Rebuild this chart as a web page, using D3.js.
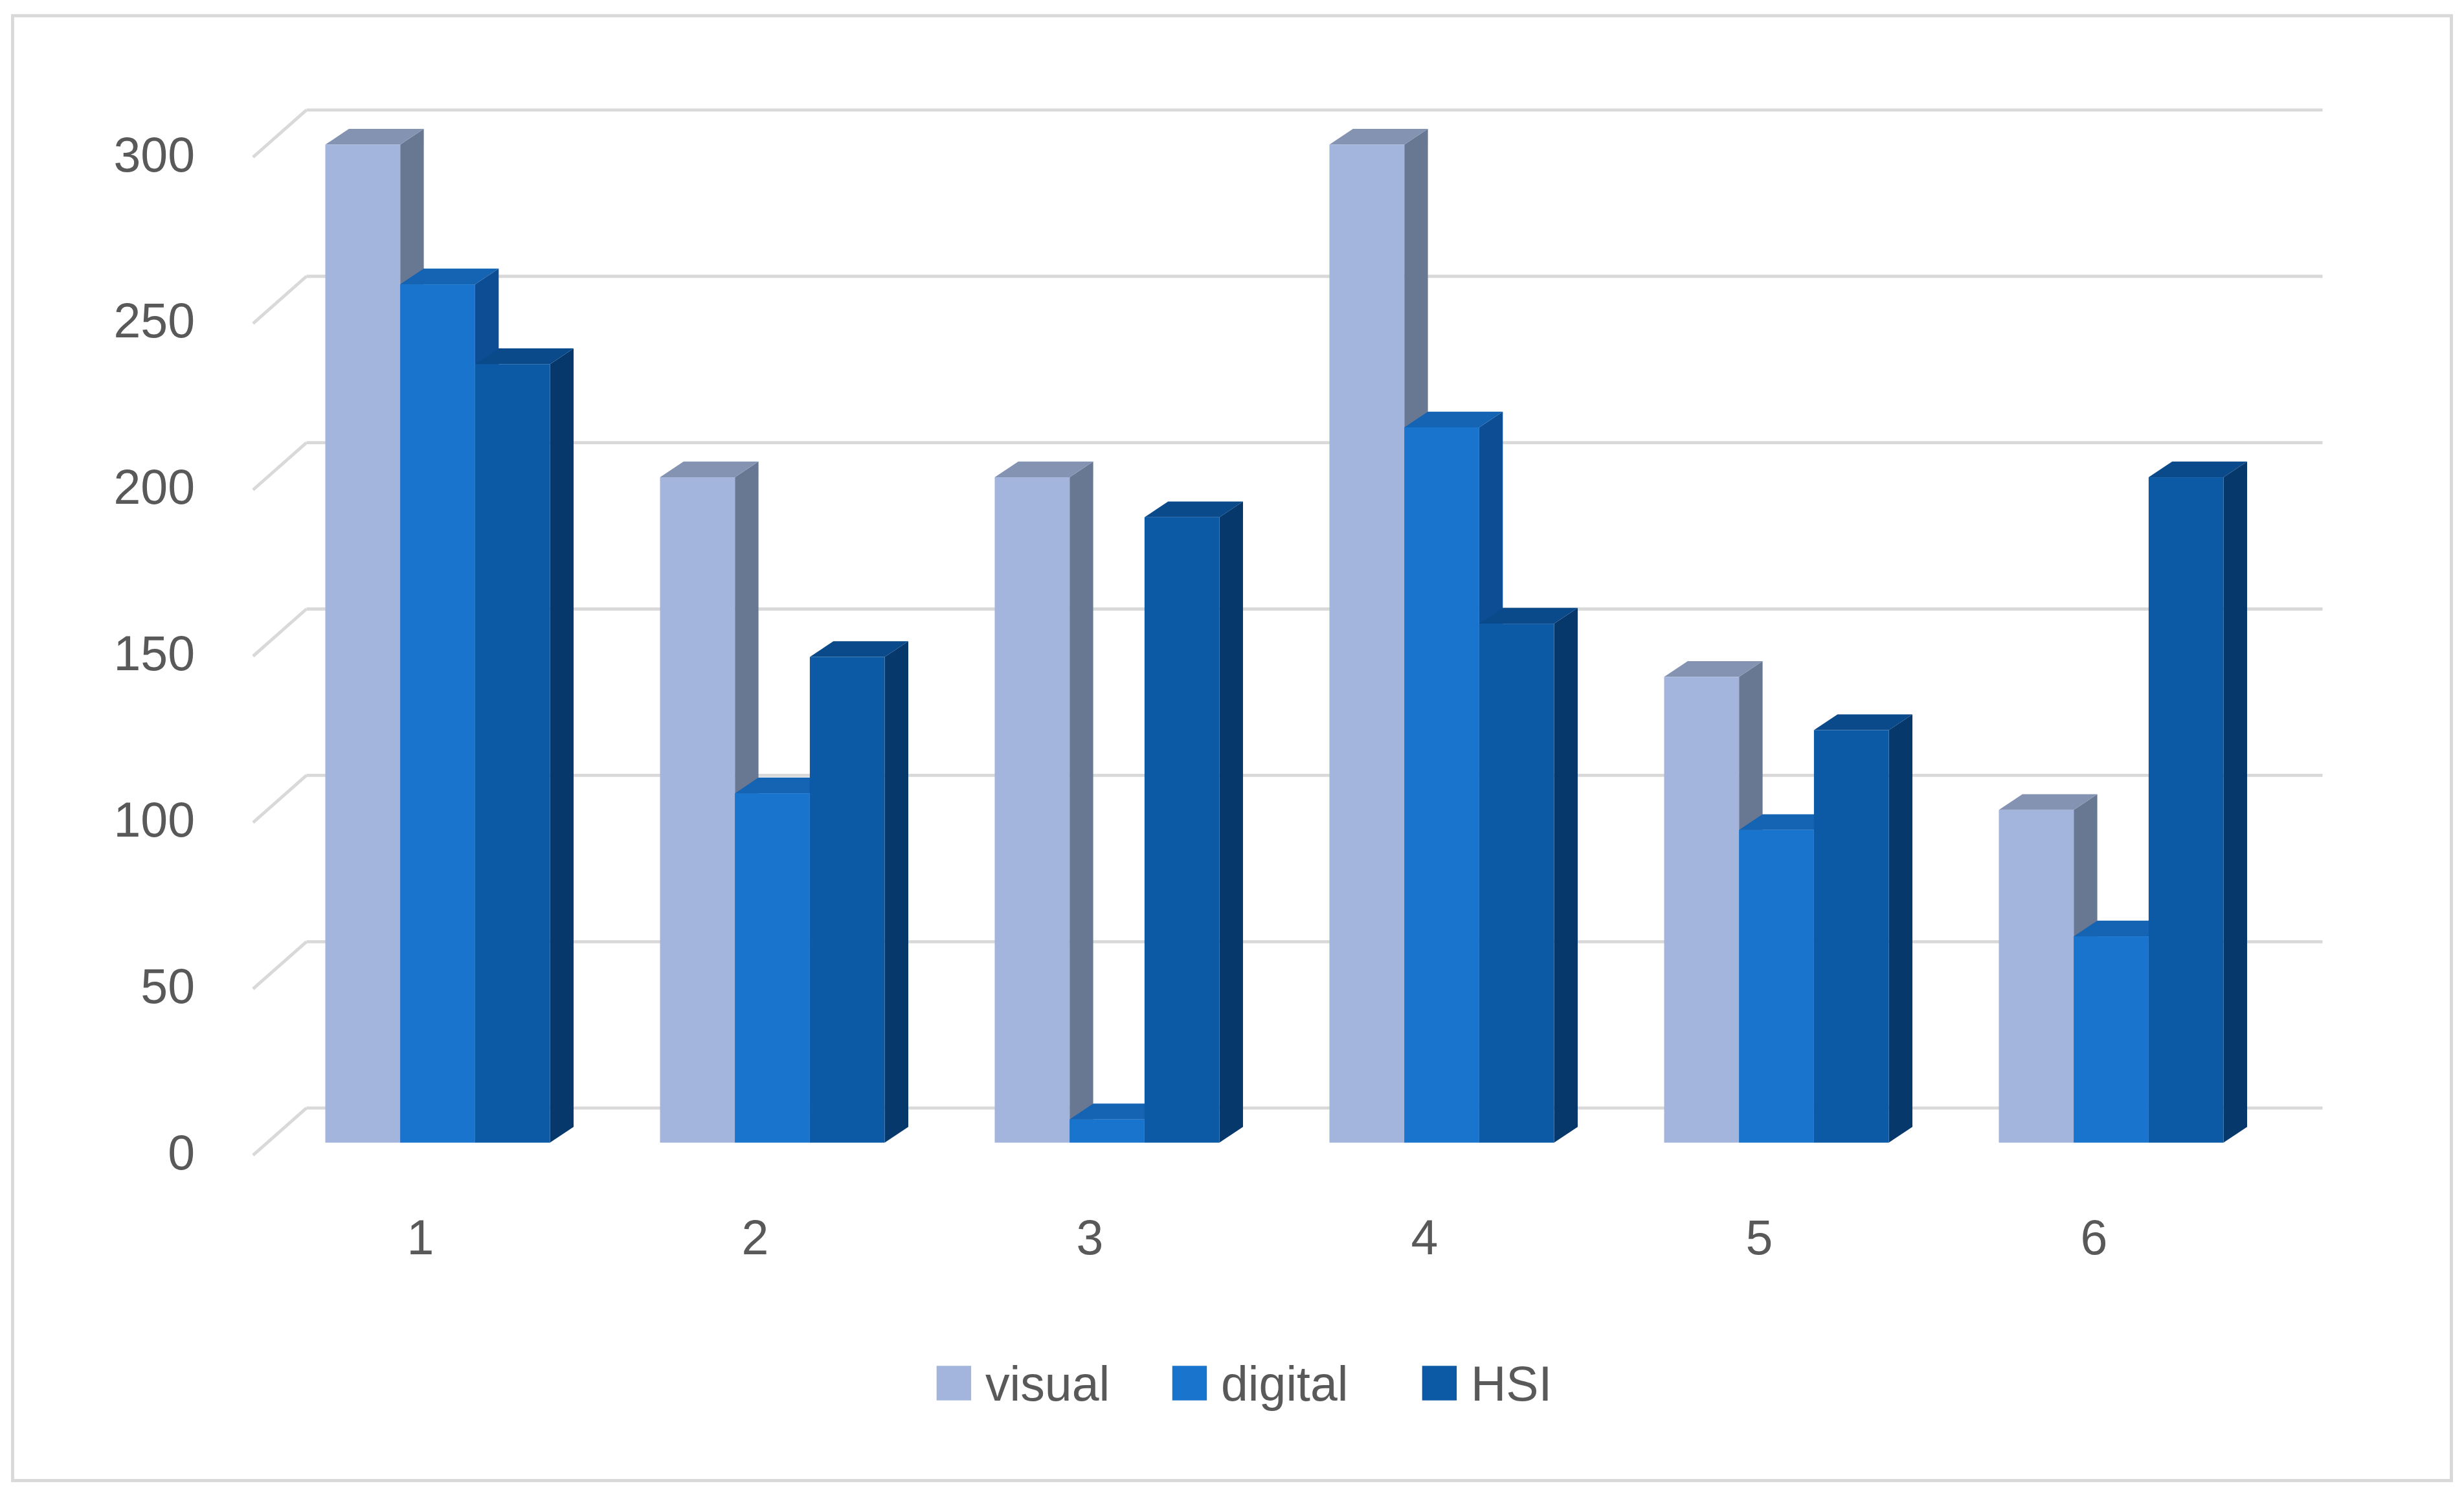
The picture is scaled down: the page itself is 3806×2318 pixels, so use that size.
<!DOCTYPE html>
<html><head><meta charset="utf-8">
<script src="https://cdn.jsdelivr.net/npm/d3@7"></script>
<style>body{margin:0;background:#fff}</style>
</head><body><div id="chart"></div>
<script>
// Data
const categories = ["1", "2", "3", "4", "5", "6"];
const seriesNames = ["visual", "digital", "HSI"];
const visual = [300, 200, 200, 300, 140, 100];
const digital = [258, 105, 7, 215, 94, 62];
const hsi = [234, 146, 188, 156, 124, 200];
const yTicks = [0, 50, 100, 150, 200, 250, 300];

const seriesValues = [visual, digital, hsi];
const colors = {
  visual: { front: "#a3b5dc", side: "#687893", top: "#8593b3" },
  digital: { front: "#1874cd", side: "#0d4d93", top: "#1563b3" },
  HSI: { front: "#0c5aa6", side: "#06386c", top: "#0a4a8a" }
};

// drawn in a 1568x955 coordinate space scaled to the window
const svg = d3.select("#chart").append("svg")
  .attr("width", 3806).attr("height", 2318)
  .attr("viewBox", "0 0 1568 955");

svg.append("rect").attr("x", 8).attr("y", 10).attr("width", 1552).attr("height", 932)
  .attr("fill", "#fff").attr("stroke", "#d9d9d9").attr("stroke-width", 2);

const x = d3.scaleBand().domain(categories).range([161, 1439]);
const xs = d3.scaleBand().domain(seriesNames).range([46, 189]);
const y = d3.scaleLinear().domain([0, 300]).range([727, 92]);

const floorDx = 34, floorDy = -22;
const dx = 15, dy = -10;

// gridlines on the back wall
svg.selectAll(".grid").data(yTicks).enter().append("line")
  .attr("x1", 161 + floorDx).attr("x2", 1478)
  .attr("y1", d => y(d) + floorDy).attr("y2", d => y(d) + floorDy)
  .attr("stroke", "#d9d9d9").attr("stroke-width", 2);
svg.selectAll(".gridd").data(yTicks).enter().append("line")
  .attr("x1", 161).attr("x2", 161 + floorDx)
  .attr("y1", d => y(d) + 8).attr("y2", d => y(d) + floorDy)
  .attr("stroke", "#d9d9d9").attr("stroke-width", 2);

svg.selectAll(".ytick").data(yTicks).enter().append("text")
  .attr("x", 124).attr("y", d => y(d) + 17)
  .attr("text-anchor", "end")
  .attr("font-family", "Liberation Sans, Arial, sans-serif")
  .attr("font-size", 31).attr("fill", "#595959")
  .text(d => d);

svg.selectAll(".xtick").data(categories).enter().append("text")
  .attr("x", d => x(d) + x.bandwidth() / 2).attr("y", 798)
  .attr("text-anchor", "middle")
  .attr("font-family", "Liberation Sans, Arial, sans-serif")
  .attr("font-size", 31).attr("fill", "#595959")
  .text(d => d);

// 3D bars
const bars = [];
categories.forEach((c, i) => {
  seriesNames.forEach((s, j) => bars.push({ c, s, v: seriesValues[j][i] }));
});
const g = svg.selectAll(".bar").data(bars).enter().append("g");
const w = xs.bandwidth();
g.append("path")
  .attr("d", d => {
    const x0 = x(d.c) + xs(d.s) + w, y0 = y(d.v), yb = y(0);
    return `M${x0},${y0}L${x0 + dx},${y0 + dy}L${x0 + dx},${yb + dy}L${x0},${yb}Z`;
  })
  .attr("fill", d => colors[d.s].side);
g.append("path")
  .attr("d", d => {
    const x0 = x(d.c) + xs(d.s), y0 = y(d.v);
    return `M${x0},${y0}L${x0 + dx},${y0 + dy}L${x0 + w + dx},${y0 + dy}L${x0 + w},${y0}Z`;
  })
  .attr("fill", d => colors[d.s].top);
g.append("rect")
  .attr("x", d => x(d.c) + xs(d.s)).attr("y", d => y(d.v))
  .attr("width", w).attr("height", d => y(0) - y(d.v))
  .attr("fill", d => colors[d.s].front);

// legend
const legendX = [596, 746, 905];
const legend = svg.selectAll(".legend").data(seriesNames).enter().append("g")
  .attr("transform", (d, i) => `translate(${legendX[i]},880)`);
legend.append("rect").attr("x", 0).attr("y", -11).attr("width", 22).attr("height", 22)
  .attr("fill", d => colors[d].front);
legend.append("text").attr("x", 31).attr("y", 11)
  .attr("font-family", "Liberation Sans, Arial, sans-serif")
  .attr("font-size", 31).attr("fill", "#595959")
  .text(d => d);
</script>
</body></html>
